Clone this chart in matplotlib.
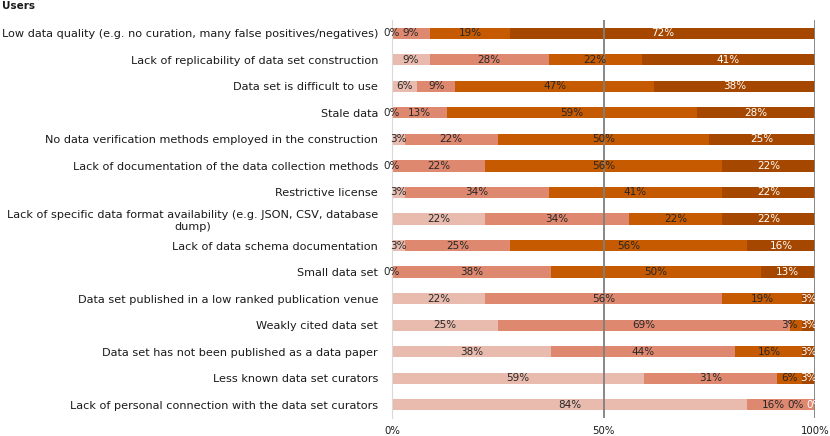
import matplotlib
matplotlib.use('Agg')
import matplotlib.pyplot as plt
import numpy as np

# categories, top to bottom
categories = [
    'Low data quality (e.g. no curation, many false positives/negatives)',
    'Lack of replicability of data set construction',
    'Data set is difficult to use',
    'Stale data',
    'No data verification methods employed in the construction',
    'Lack of documentation of the data collection methods',
    'Restrictive license',
    'Lack of specific data format availability (e.g. JSON, CSV, database\ndump)',
    'Lack of data schema documentation',
    'Small data set',
    'Data set published in a low ranked publication venue',
    'Weakly cited data set',
    'Data set has not been published as a data paper',
    'Less known data set curators',
    'Lack of personal connection with the data set curators',
]

# percentages per answer level (lightest -> darkest)
level1 = [0, 9, 6, 0, 3, 0, 3, 22, 3, 0, 22, 25, 38, 59, 84]
level2 = [9, 28, 9, 13, 22, 22, 34, 34, 25, 38, 56, 69, 44, 31, 16]
level3 = [19, 22, 47, 59, 50, 56, 41, 22, 56, 50, 19, 3, 16, 6, 0]
level4 = [72, 41, 38, 28, 25, 22, 22, 22, 16, 13, 3, 3, 3, 3, 0]

colors = ['#E8BBAE', '#DF8870', '#C55A00', '#A64700']
text_colors = ['#262626', '#262626', '#262626', 'white']

xtick_vals = [0, 50, 100]
xtick_labels = ['0%', '50%', '100%']

levels = np.array([level1, level2, level3, level4], dtype=float)
totals = levels.sum(axis=0)
widths = levels / totals * 100  # bars fill to 100%

fig = plt.figure(figsize=(8.3, 4.36), dpi=100)
ax = fig.add_axes([392 / 830, 1 - 418 / 436, 423 / 830, 398 / 436])

y = np.arange(len(categories))
left = np.zeros(len(categories))
for k in range(4):
    ax.barh(y, widths[k], left=left, height=0.42, color=colors[k],
            edgecolor='none', zorder=2)
    left = left + widths[k]

# data labels, nudged apart when crowded
def label_width(s):
    # rough width in % units for the label font
    return 1.3 * len(s) + 1.0

for i in range(len(categories)):
    starts = np.concatenate([[0], np.cumsum(widths[:, i])[:-1]])
    centers = list(starts + widths[:, i] / 2)
    texts = [f'{int(v)}%' for v in levels[:, i]]
    limit = 101.6
    for k in range(3, -1, -1):
        w = label_width(texts[k])
        if centers[k] + w / 2 > limit:
            centers[k] = limit - w / 2
        limit = centers[k] - w / 2 - 0.9
    for k in range(4):
        ax.text(centers[k], i, texts[k], ha='center', va='center',
                fontsize=7.5, color=text_colors[k], zorder=4)

ax.set_ylim(len(categories) - 0.5, -0.5)
ax.set_xlim(0, 100)
ax.set_yticks(y)
ax.set_yticklabels(categories, fontsize=8.1, color='#1a1a1a',
                   multialignment='center')
ax.set_xticks(xtick_vals)
ax.set_xticklabels(xtick_labels, fontsize=7.3, color='#1a1a1a')
ax.tick_params(length=0)
ax.tick_params(axis='x', pad=6)
ax.tick_params(axis='y', pad=10)

for s in ['top', 'right', 'bottom']:
    ax.spines[s].set_visible(False)
ax.spines['left'].set_color('#d9d9d9')
ax.axvline(50, color='#7f7f7f', lw=1.3, zorder=3)
ax.axvline(100, color='#7f7f7f', lw=1.3, zorder=3)

fig.text(2 / 830, 1 - 6 / 436, 'Users', fontsize=7.5, fontweight='bold',
         ha='left', va='center', color='#1a1a1a')

fig.savefig('out.png', dpi=100)
